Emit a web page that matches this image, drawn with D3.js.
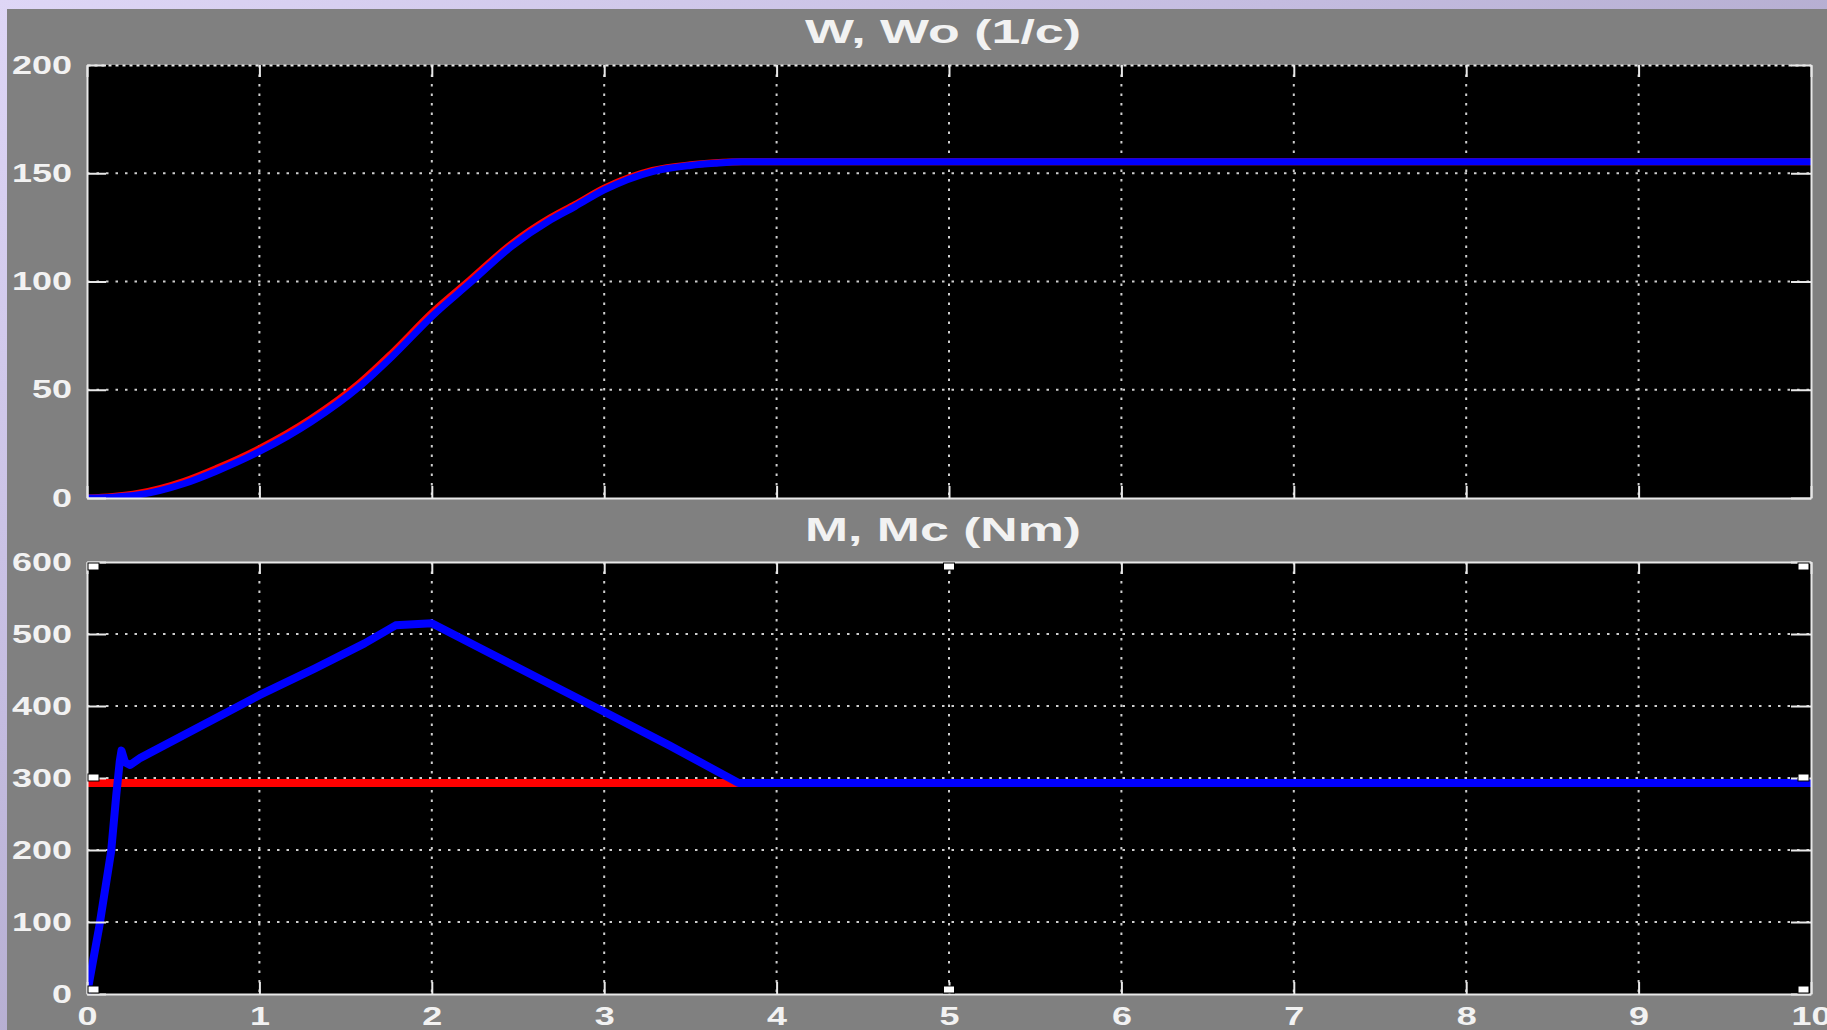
<!DOCTYPE html>
<html>
<head>
<meta charset="utf-8">
<script src="https://cdnjs.cloudflare.com/ajax/libs/d3/7.8.5/d3.min.js"></script>
<style>
  html, body { margin: 0; padding: 0; background: #808080; overflow: hidden; }
  svg { display: block; }
  text { font-family: "Liberation Sans", Arial, sans-serif; font-weight: bold; fill: #f2f2f2; }
</style>
</head>
<body>
<svg id="fig" width="1827" height="1030"></svg>
<script>
// ---- speed panel: W (motor) and Wo (reference), 1/c ----
const timeW  = [0, 0.15, 0.3, 0.56, 0.75, 1.0, 1.3, 1.58, 1.77, 2.01, 2.22, 2.46, 2.69, 2.83, 3.0, 3.28, 3.5, 3.64, 3.8, 10];
const speedW = [0, 0.4, 1.5, 6.6, 12.4, 21.5, 35.2, 51.5, 65.4, 84.6, 99.2, 116, 128.5, 134.6, 142.3, 150.8, 153.6, 154.6, 155.3, 155.3];
const speedWo = [0, 0.7, 2.2, 7.6, 13.6, 22.8, 36.6, 53.0, 67.0, 86.2, 100.6, 117.2, 129.5, 135.5, 143.1, 151.3, 153.9, 154.8, 155.3, 155.3];

// ---- torque panel: M (motor) and Mc (load), Nm ----
const timeM   = [0, 0.07, 0.14, 0.17, 0.19, 0.2, 0.22, 0.25, 0.31, 1.0, 1.32, 1.61, 1.79, 2.0, 2.6, 3.0, 3.38, 3.78, 10];
const torqueM = [0, 92, 198, 277, 323, 338, 322, 318, 328, 415, 452, 487, 512, 515, 441, 392, 345, 293, 293];
const timeMc   = [0, 10];
const torqueMc = [293, 293];

// ---- axis ticks and titles ----
const xTicks    = [0, 1, 2, 3, 4, 5, 6, 7, 8, 9, 10];
const yTicksTop = [0, 50, 100, 150, 200];
const yTicksBot = [0, 100, 200, 300, 400, 500, 600];
const titleTop = "W, Wo (1/c)";
const titleBot = "M, Mc (Nm)";

const svg = d3.select("#fig");
const W = 1827, H = 1030;

// window backdrop
const defs = svg.append("defs");
const grad = defs.append("linearGradient").attr("id", "backdrop")
  .attr("x1", "0").attr("y1", "0").attr("x2", "1").attr("y2", "1");
grad.append("stop").attr("offset", "0").attr("stop-color", "#ded6f6");
grad.append("stop").attr("offset", "0.35").attr("stop-color", "#c4bce0");
grad.append("stop").attr("offset", "1").attr("stop-color", "#8c86a6");
svg.append("rect").attr("width", W).attr("height", H).attr("fill", "url(#backdrop)");
svg.append("rect").attr("x", 7).attr("y", 9).attr("width", W - 7).attr("height", H - 9).attr("fill", "#808080");

const left = 87, right = 1811;
const x = d3.scaleLinear().domain([0, 10]).range([left, right]);

const panels = [
  { top: 65, bottom: 498, domain: [0, 200], yTicks: yTicksTop, title: titleTop, titleY: 43, labelsX: false, dottedTop: true,
    series: [
      { t: timeW, v: speedWo, color: "#ff0000", width: 7, curve: d3.curveMonotoneX },
      { t: timeW, v: speedW, color: "#0000ff", width: 7, curve: d3.curveMonotoneX }
    ] },
  { top: 562, bottom: 994, domain: [0, 600], yTicks: yTicksBot, title: titleBot, titleY: 541, labelsX: true, dottedTop: false, handles: true,
    series: [
      { t: timeMc, v: torqueMc, color: "#ff0000", width: 8, curve: d3.curveLinear },
      { t: timeM, v: torqueM, color: "#0000ff", width: 8, curve: d3.curveLinear }
    ] }
];

function stretch(sel, perChar) {
  sel.each(function () {
    const s = this.textContent;
    d3.select(this).attr("textLength", s.length * perChar).attr("lengthAdjust", "spacingAndGlyphs");
  });
}

panels.forEach(p => {
  const y = d3.scaleLinear().domain(p.domain).range([p.bottom, p.top]);
  const g = svg.append("g");
  const clipId = "clip" + p.top;
  defs.append("clipPath").attr("id", clipId).append("rect")
    .attr("x", left).attr("y", p.top).attr("width", right - left).attr("height", p.bottom - p.top);

  g.append("rect").attr("x", left).attr("y", p.top).attr("width", right - left).attr("height", p.bottom - p.top).attr("fill", "#000");

  // dotted grid
  const grid = g.append("g").attr("stroke", "#cfcfcf").attr("stroke-width", 2).attr("stroke-dasharray", "2.5,7");
  grid.selectAll(".gx").data(xTicks.slice(1, -1)).join("line")
    .attr("x1", d => x(d)).attr("x2", d => x(d)).attr("y1", p.top).attr("y2", p.bottom);
  grid.selectAll(".gy").data(p.yTicks.slice(1, -1)).join("line")
    .attr("x1", left).attr("x2", right).attr("y1", d => y(d)).attr("y2", d => y(d));

  // series
  const plot = g.append("g").attr("clip-path", `url(#${clipId})`);
  p.series.forEach(s => {
    const pts = s.t.map((t, i) => [t, s.v[i]]);
    plot.append("path").datum(pts)
      .attr("fill", "none").attr("stroke", s.color).attr("stroke-width", s.width)
      .attr("stroke-linejoin", "round").attr("stroke-linecap", "round")
      .attr("d", d3.line().x(d => x(d[0])).y(d => y(d[1])).curve(s.curve));
  });

  // axes (inward ticks, light frame)
  const axisStyle = a => a.selectAll("path, line").attr("stroke", "#e8e8e8").attr("stroke-width", 2);
  const yl = g.append("g").attr("transform", `translate(${left},0)`)
    .call(d3.axisLeft(y).tickValues(p.yTicks).tickSizeInner(-19).tickSizeOuter(0).tickPadding(15));
  axisStyle(yl);
  yl.selectAll("text").attr("font-size", 25).attr("fill", "#f2f2f2").attr("font-family", null).call(stretch, 20);

  const yr = g.append("g").attr("transform", `translate(${right},0)`)
    .call(d3.axisRight(y).tickValues(p.yTicks).tickSizeInner(-20).tickSizeOuter(0).tickFormat(""));
  axisStyle(yr);

  const xb = g.append("g").attr("transform", `translate(0,${p.bottom})`)
    .call(d3.axisBottom(x).tickValues(xTicks).tickSizeInner(-12).tickSizeOuter(0).tickPadding(13)
      .tickFormat(p.labelsX ? d3.format("d") : ""));
  axisStyle(xb);
  xb.selectAll("text").attr("font-size", 25).attr("fill", "#f2f2f2").attr("font-family", null).call(stretch, 20);

  const xt = g.append("g").attr("transform", `translate(0,${p.top})`)
    .call(d3.axisTop(x).tickValues(xTicks).tickSizeInner(-12).tickSizeOuter(0).tickFormat(""));
  axisStyle(xt);
  if (p.dottedTop) xt.select("path.domain").attr("stroke-dasharray", "3,4");
  xt.selectAll("text").remove();

  // title
  g.append("text").attr("x", (left + right) / 2 - 6).attr("y", p.titleY)
    .attr("text-anchor", "middle").attr("font-size", 33)
    .attr("textLength", 276).attr("lengthAdjust", "spacingAndGlyphs")
    .text(p.title);

  // selection handles around the active axes
  if (p.handles) {
    const hw = 11, hh = 7;
    const mid = (left + right) / 2, ymid = (p.top + p.bottom) / 2;
    const spots = [
      [left + 1, p.top + 1], [mid - hw / 2, p.top + 1], [right - hw - 2, p.top + 1],
      [left + 1, ymid - 4], [right - hw - 2, ymid - 4],
      [left + 1, p.bottom - hh - 1], [mid - hw / 2, p.bottom - hh - 1], [right - hw - 2, p.bottom - hh - 1]
    ];
    g.selectAll(".handle").data(spots).join("rect")
      .attr("x", d => d[0]).attr("y", d => d[1]).attr("width", hw).attr("height", hh)
      .attr("fill", "#ffffff").attr("stroke", "#000").attr("stroke-width", 1);
  }
});
</script>
</body>
</html>
